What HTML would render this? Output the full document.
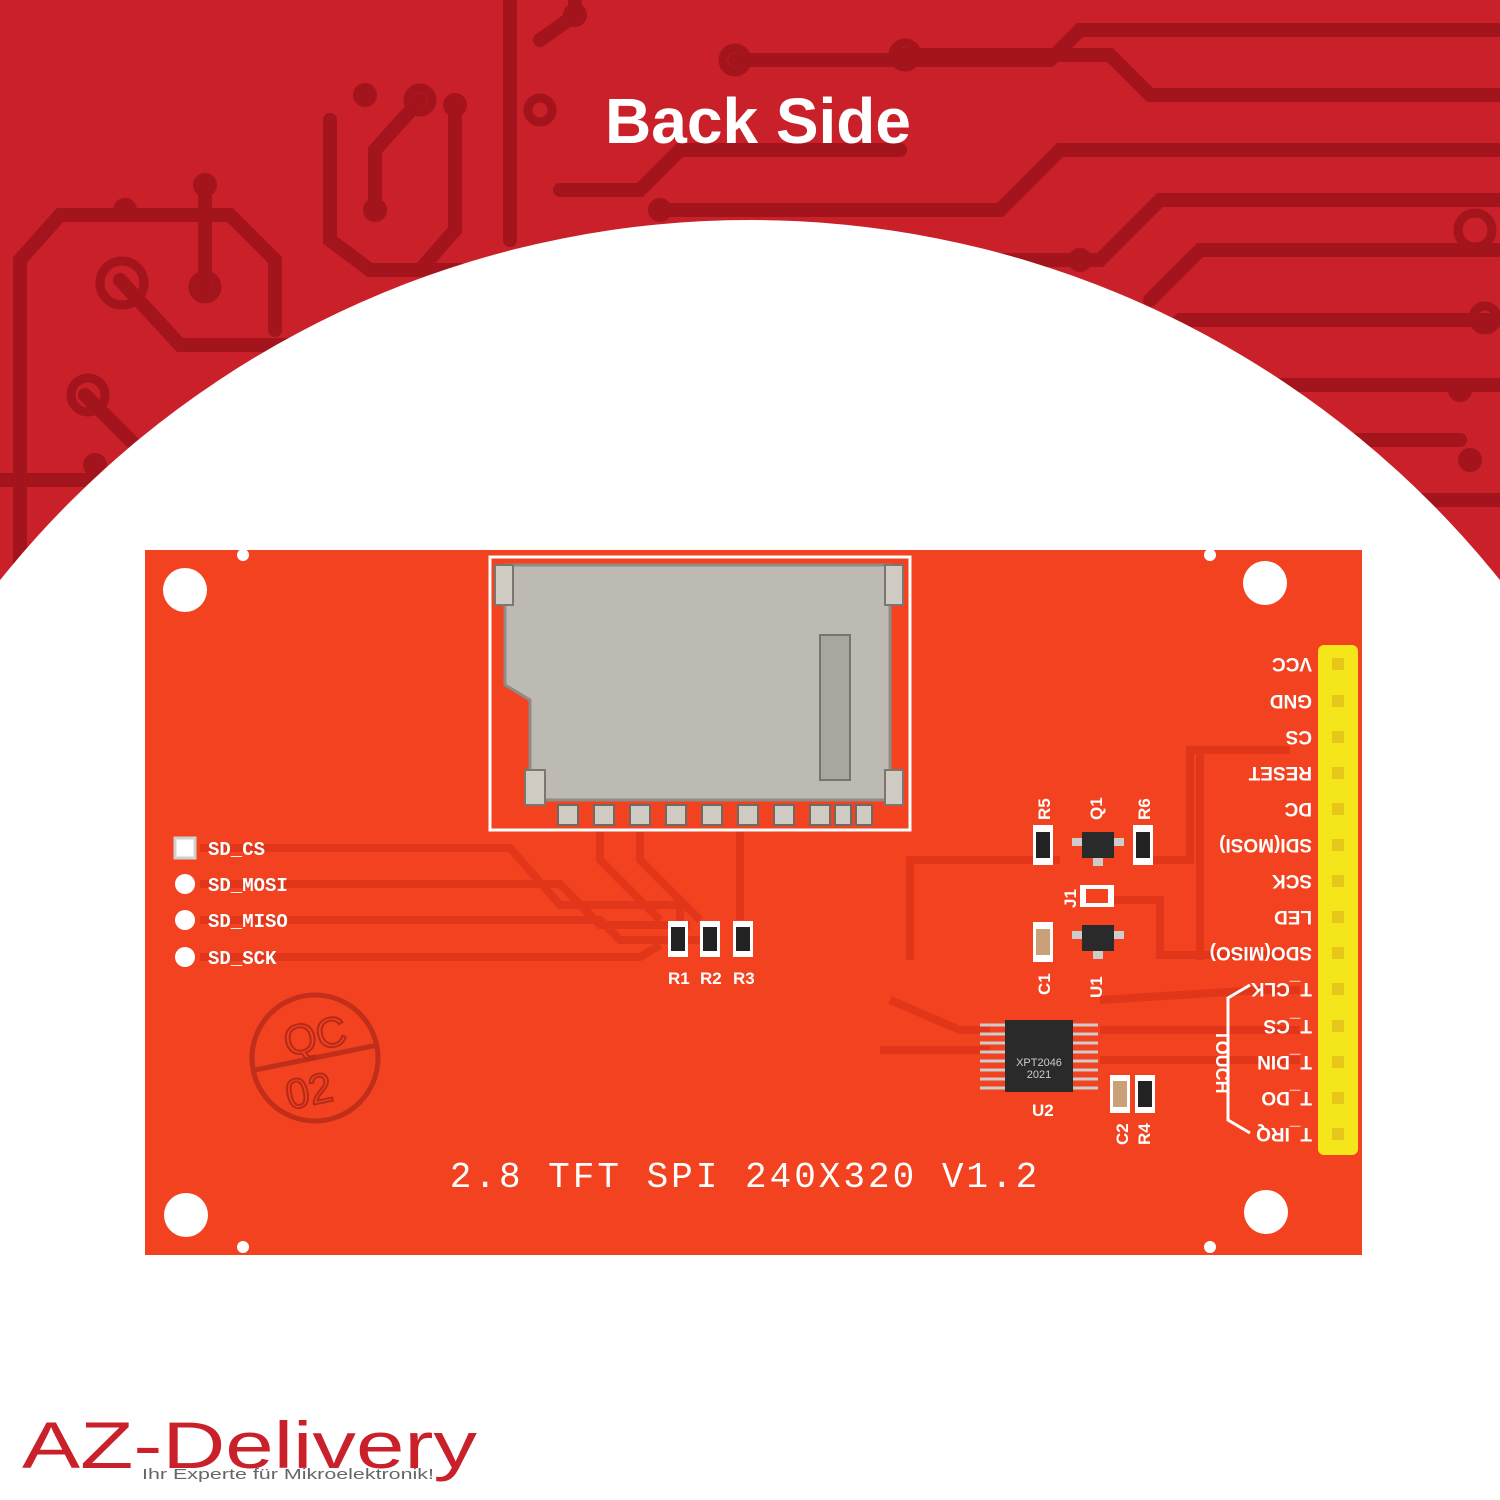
<!DOCTYPE html>
<html><head><meta charset="utf-8"><style>
html,body{margin:0;padding:0;background:#fff;width:1500px;height:1500px;overflow:hidden}
svg{display:block}
text{font-family:"Liberation Sans",sans-serif}
</style></head><body>
<svg width="1500" height="1500" viewBox="0 0 1500 1500" xmlns="http://www.w3.org/2000/svg">
<rect width="1500" height="1500" fill="#c9202a"/>
<g stroke="#a3141d" stroke-width="14" fill="none" stroke-linecap="round">
<path d="M20 600 L20 260 L60 215 L230 215 L275 260 L275 330"/>
<path d="M120 280 L180 345 L300 345"/>
<path d="M85 395 L150 460 L160 500"/>
<path d="M0 480 L100 480"/>
<path d="M205 185 L205 290"/>
<path d="M330 120 L330 240 L370 270 L460 270"/>
<path d="M375 210 L375 150 L420 100"/>
<path d="M455 105 L455 230 L420 270"/>
<path d="M510 0 L510 240"/>
<path d="M540 40 L575 15 L575 0"/>
<path d="M560 190 L640 190 L680 150 L900 150"/>
<path d="M735 60 L1050 60 L1080 30 L1500 30"/>
<path d="M660 210 L1000 210 L1060 150 L1500 150"/>
<path d="M900 55 L1110 55 L1150 95 L1500 95"/>
<path d="M960 260 L1100 260 L1160 200 L1500 200"/>
<path d="M1150 300 L1200 250 L1500 250"/>
<path d="M1180 320 L1500 320"/>
<path d="M1230 385 L1500 385"/>
<path d="M1300 440 L1460 440"/>
<path d="M1330 500 L1500 500"/>
</g>
<g fill="#a3141d">
<circle cx="125" cy="210" r="12"/><circle cx="205" cy="185" r="12"/><circle cx="365" cy="95" r="12"/>
<circle cx="455" cy="105" r="12"/><circle cx="375" cy="210" r="12"/><circle cx="575" cy="15" r="12"/>
<circle cx="660" cy="210" r="12"/><circle cx="1080" cy="260" r="12"/><circle cx="1460" cy="390" r="12"/>
<circle cx="1470" cy="460" r="12"/><circle cx="95" cy="465" r="12"/>
</g>
<g stroke="#a3141d" stroke-width="9" fill="none">
<circle cx="122" cy="283" r="22"/><circle cx="88" cy="395" r="17"/><circle cx="205" cy="287" r="12"/>
<circle cx="420" cy="100" r="12"/><circle cx="540" cy="110" r="12"/><circle cx="735" cy="60" r="12"/>
<circle cx="905" cy="55" r="12"/><circle cx="1475" cy="230" r="17"/><circle cx="1485" cy="318" r="12"/>
</g>
<text x="758" y="143" text-anchor="middle" font-size="64" font-weight="bold" fill="#fff">Back Side</text>
<circle cx="750" cy="1181" r="961" fill="#fff"/>
<rect x="0" y="1300" width="1500" height="200" fill="#fff"/>

<rect x="145" y="550" width="1217" height="705" fill="#f2421f"/>
<g fill="#fff">
<circle cx="185" cy="590" r="22"/><circle cx="1265" cy="583" r="22"/>
<circle cx="186" cy="1215" r="22"/><circle cx="1266" cy="1212" r="22"/>
<circle cx="243" cy="555" r="6"/><circle cx="1210" cy="555" r="6"/><circle cx="243" cy="1247" r="6"/><circle cx="1210" cy="1247" r="6"/>
</g>
<g stroke="#e1361a" stroke-width="8" fill="none">
<path d="M200 848 L510 848 L560 905 L680 905 L680 925"/>
<path d="M200 884 L560 884 L600 925 L690 925"/>
<path d="M200 920 L600 920 L620 940 L700 940"/>
<path d="M200 957 L640 957 L660 945"/>
<path d="M600 830 L600 860 L660 920"/>
<path d="M640 830 L640 860 L700 920"/>
<path d="M740 830 L740 920"/>
<path d="M910 960 L910 860 L1060 860"/>
<path d="M1150 860 L1190 860 L1190 750 L1290 750"/>
<path d="M1200 960 L1200 750"/>
<path d="M1100 900 L1160 900 L1160 955 L1290 955"/>
<path d="M890 1000 L960 1030 L990 1030"/>
<path d="M880 1050 L990 1050"/>
<path d="M1100 1030 L1300 1030"/>
<path d="M1100 1060 L1300 1060"/>
<path d="M1100 1000 L1260 990 L1300 990"/>
</g>
<rect x="490" y="557" width="420" height="273" fill="none" stroke="#fff" stroke-width="3"/>
<path d="M510 565 L890 565 L890 800 L530 800 L530 700 L505 685 L505 565 Z" fill="#bdbab4" stroke="#8f8c87" stroke-width="3"/>
<rect x="820" y="635" width="30" height="145" fill="#a9a69f" stroke="#77746e" stroke-width="2"/>
<g fill="#cfcbc3" stroke="#7b776f" stroke-width="2">
<rect x="495" y="565" width="18" height="40"/><rect x="885" y="565" width="18" height="40"/>
<rect x="525" y="770" width="20" height="35"/><rect x="885" y="770" width="18" height="35"/>
</g>
<g fill="#cfcbc3" stroke="#6f6b64" stroke-width="2">
<rect x="558" y="805" width="20" height="20"/><rect x="594" y="805" width="20" height="20"/><rect x="630" y="805" width="20" height="20"/>
<rect x="666" y="805" width="20" height="20"/><rect x="702" y="805" width="20" height="20"/><rect x="738" y="805" width="20" height="20"/>
<rect x="774" y="805" width="20" height="20"/><rect x="810" y="805" width="20" height="20"/><rect x="835" y="805" width="16" height="20"/><rect x="856" y="805" width="16" height="20"/>
</g>
<rect x="175" y="838" width="20" height="20" fill="#fff" stroke="#d0d0d0" stroke-width="3"/>
<g fill="#fff"><circle cx="185" cy="884" r="10"/><circle cx="185" cy="920" r="10"/><circle cx="185" cy="957" r="10"/></g>
<g fill="#fff" font-size="19" font-weight="bold">
<text x="208" y="855" style="font-family:'Liberation Mono',monospace">SD_CS</text>
<text x="208" y="891" style="font-family:'Liberation Mono',monospace">SD_MOSI</text>
<text x="208" y="927" style="font-family:'Liberation Mono',monospace">SD_MISO</text>
<text x="208" y="964" style="font-family:'Liberation Mono',monospace">SD_SCK</text>
</g>
<g>
<rect x="668" y="921" width="20" height="36" fill="#fff"/><rect x="671" y="927" width="14" height="24" fill="#222"/>
<rect x="700" y="921" width="20" height="36" fill="#fff"/><rect x="703" y="927" width="14" height="24" fill="#222"/>
<rect x="733" y="921" width="20" height="36" fill="#fff"/><rect x="736" y="927" width="14" height="24" fill="#222"/>
<rect x="1033" y="825" width="20" height="40" fill="#fff"/><rect x="1036" y="832" width="14" height="26" fill="#222"/>
<rect x="1133" y="825" width="20" height="40" fill="#fff"/><rect x="1136" y="832" width="14" height="26" fill="#222"/>
<rect x="1033" y="922" width="20" height="40" fill="#fff"/><rect x="1036" y="929" width="14" height="26" fill="#c9a078"/>
<rect x="1110" y="1075" width="20" height="38" fill="#fff"/><rect x="1113" y="1081" width="14" height="26" fill="#c9a078"/>
<rect x="1135" y="1075" width="20" height="38" fill="#fff"/><rect x="1138" y="1081" width="14" height="26" fill="#222"/>
<rect x="1080" y="885" width="34" height="22" fill="#fff"/><rect x="1086" y="889" width="22" height="14" fill="#f2421f"/>
</g>
<g fill="#fff" font-size="17" font-weight="bold">
<text x="668" y="984">R1</text><text x="700" y="984">R2</text><text x="733" y="984">R3</text>
<text x="1032" y="1116">U2</text>
<text transform="translate(1050 820) rotate(-90)">R5</text>
<text transform="translate(1102 820) rotate(-90)">Q1</text>
<text transform="translate(1150 820) rotate(-90)">R6</text>
<text transform="translate(1050 995) rotate(-90)">C1</text>
<text transform="translate(1102 998) rotate(-90)">U1</text>
<text transform="translate(1076 908) rotate(-90)">J1</text>
<text transform="translate(1128 1145) rotate(-90)">C2</text>
<text transform="translate(1150 1145) rotate(-90)">R4</text>
</g>
<rect x="1082" y="832" width="32" height="26" fill="#2a2a2a"/>
<rect x="1082" y="925" width="32" height="26" fill="#2a2a2a"/>
<g fill="#ccc"><rect x="1072" y="838" width="10" height="8"/><rect x="1114" y="838" width="10" height="8"/><rect x="1093" y="858" width="10" height="8"/>
<rect x="1072" y="931" width="10" height="8"/><rect x="1114" y="931" width="10" height="8"/><rect x="1093" y="951" width="10" height="8"/></g>
<rect x="1005" y="1020" width="68" height="72" fill="#2a2a2a"/>
<g stroke="#ccc" stroke-width="3">
<path d="M980 1025h25M980 1034h25M980 1043h25M980 1052h25M980 1061h25M980 1070h25M980 1079h25M980 1088h25"/>
<path d="M1073 1025h25M1073 1034h25M1073 1043h25M1073 1052h25M1073 1061h25M1073 1070h25M1073 1079h25M1073 1088h25"/>
</g>
<text x="1039" y="1066" text-anchor="middle" font-size="11" fill="#ccc">XPT2046</text>
<text x="1039" y="1078" text-anchor="middle" font-size="11" fill="#ccc">2021</text>
<g stroke="#b62a1a" stroke-width="5" fill="none" opacity="0.8">
<circle cx="315" cy="1058" r="63"/>
<path d="M255 1070 L378 1045"/>
</g>
<text x="318" y="1050" text-anchor="middle" font-size="42" fill="none" stroke="#b62a1a" stroke-width="2" transform="rotate(-12 318 1050)">QC</text>
<text x="312" y="1105" text-anchor="middle" font-size="42" fill="none" stroke="#b62a1a" stroke-width="2" transform="rotate(-12 312 1105)">02</text>
<text x="745" y="1187" text-anchor="middle" font-size="36" fill="#fff" letter-spacing="3" style="font-family:'Liberation Mono',monospace">2.8 TFT SPI 240X320 V1.2</text>
<rect x="1318" y="645" width="40" height="510" rx="6" fill="#f5e51b"/>
<g fill="#e7c81a">
<rect x="1332" y="658" width="12" height="12"/><rect x="1332" y="695" width="12" height="12"/><rect x="1332" y="731" width="12" height="12"/><rect x="1332" y="767" width="12" height="12"/><rect x="1332" y="803" width="12" height="12"/><rect x="1332" y="839" width="12" height="12"/><rect x="1332" y="875" width="12" height="12"/><rect x="1332" y="911" width="12" height="12"/><rect x="1332" y="947" width="12" height="12"/><rect x="1332" y="983" width="12" height="12"/><rect x="1332" y="1020" width="12" height="12"/><rect x="1332" y="1056" width="12" height="12"/><rect x="1332" y="1092" width="12" height="12"/><rect x="1332" y="1128" width="12" height="12"/>
</g>
<g fill="#fff" font-size="19" font-weight="bold">
<text transform="translate(1312 658) rotate(180)">VCC</text>
<text transform="translate(1312 695) rotate(180)">GND</text>
<text transform="translate(1312 731) rotate(180)">CS</text>
<text transform="translate(1312 767) rotate(180)">RESET</text>
<text transform="translate(1312 803) rotate(180)">DC</text>
<text transform="translate(1312 839) rotate(180)">SDI(MOSI)</text>
<text transform="translate(1312 875) rotate(180)">SCK</text>
<text transform="translate(1312 911) rotate(180)">LED</text>
<text transform="translate(1312 947) rotate(180)">SDO(MISO)</text>
<text transform="translate(1312 983) rotate(180)">T_CLK</text>
<text transform="translate(1312 1020) rotate(180)">T_CS</text>
<text transform="translate(1312 1056) rotate(180)">T_DIN</text>
<text transform="translate(1312 1092) rotate(180)">T_DO</text>
<text transform="translate(1312 1128) rotate(180)">T_IRQ</text>
</g>
<path d="M1250 985 L1228 998 L1228 1120 L1250 1133" stroke="#fff" stroke-width="3" fill="none"/>
<text transform="translate(1216 1030) rotate(90)" fill="#fff" font-size="18" font-weight="bold">TOUCH</text>
<text x="22" y="1468" font-size="66" fill="#c9202a" textLength="455" lengthAdjust="spacingAndGlyphs">AZ-Delivery</text>
<text x="142" y="1479" font-size="15" fill="#666" textLength="292" lengthAdjust="spacingAndGlyphs">Ihr Experte für Mikroelektronik!</text>
</svg>
</body></html>
